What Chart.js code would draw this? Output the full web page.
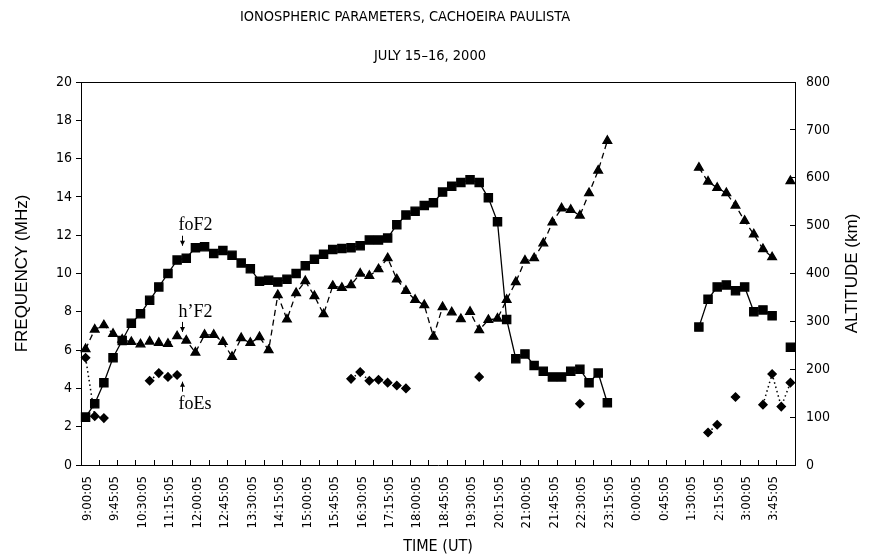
<!DOCTYPE html>
<html lang="en">
<head>
<meta charset="UTF-8">
<title>Ionospheric Parameters, Cachoeira Paulista</title>
<script src="https://cdn.jsdelivr.net/npm/chart.js"></script>
<style>
  body { margin: 0; background: #fff; }
  #chart { display: block; }
</style>
</head>
<body>
<canvas id="chart" width="872" height="558"></canvas>
<script>
// time of each sounding (UT), every 15 minutes
const timeLabels = [
  '9:00:05', '9:15:05', '9:30:05', '9:45:05', '10:00:05', '10:15:05', '10:30:05', '10:45:05',
  '11:00:05', '11:15:05', '11:30:05', '11:45:05', '12:00:05', '12:15:05', '12:30:05', '12:45:05',
  '13:00:05', '13:15:05', '13:30:05', '13:45:05', '14:00:05', '14:15:05', '14:30:05', '14:45:05',
  '15:00:05', '15:15:05', '15:30:05', '15:45:05', '16:00:05', '16:15:05', '16:30:05', '16:45:05',
  '17:00:05', '17:15:05', '17:30:05', '17:45:05', '18:00:05', '18:15:05', '18:30:05', '18:45:05',
  '19:00:05', '19:15:05', '19:30:05', '19:45:05', '20:00:05', '20:15:05', '20:30:05', '20:45:05',
  '21:00:05', '21:15:05', '21:30:05', '21:45:05', '22:00:05', '22:15:05', '22:30:05', '22:45:05',
  '23:00:05', '23:15:05', '23:30:05', '23:45:05', '0:00:05', '0:15:05', '0:30:05', '0:45:05',
  '1:00:05', '1:15:05', '1:30:05', '1:45:05', '2:00:05', '2:15:05', '2:30:05', '2:45:05',
  '3:00:05', '3:15:05', '3:30:05', '3:45:05', '4:00:05', '4:15:05'
];

// foF2 (MHz)
const foF2 = [
  2.5, 3.2, 4.3, 5.6, 6.5, 7.4, 7.9, 8.6, 9.3, 10.0,
  10.7, 10.8, 11.35, 11.4, 11.05, 11.2, 10.95, 10.55, 10.25, 9.6,
  9.65, 9.55, 9.7, 10.0, 10.4, 10.75, 11.0, 11.25, 11.3, 11.35,
  11.45, 11.75, 11.75, 11.85, 12.55, 13.05, 13.25, 13.55, 13.7, 14.25,
  14.55, 14.75, 14.9, 14.75, 13.95, 12.7, 7.6, 5.55, 5.8, 5.2,
  4.9, 4.6, 4.6, 4.9, 5.0, 4.3, 4.8, 3.25, null, null,
  null, null, null, null, null, null, null, 7.2, 8.65, 9.3,
  9.4, 9.1, 9.3, 8.0, 8.1, 7.8, null, 6.15
];

// h'F2 (km)
const hpF2 = [
  242, 283, 292, 274, 262, 257, 252, 258, 255, 253,
  269, 260, 235, 272, 272, 257, 226, 265, 255, 267,
  240, 355, 304, 359, 384, 353, 315, 374, 370, 376,
  400, 395, 409, 432, 388, 364, 345, 334, 268, 330,
  319, 305, 320, 282, 303, 306, 345, 382, 427, 432,
  463, 507, 536, 533, 521, 568, 615, 677, null, null,
  null, null, null, null, null, null, null, 621, 592, 579,
  568, 542, 510, 482, 451, 434, null, 593
];

// foEs (MHz)
const foEs = [
  5.6, 2.55, 2.45, null, null, null, null, 4.4, 4.8, 4.6,
  4.7, null, null, null, null, null, null, null, null, null,
  null, null, null, null, null, null, null, null, null, 4.5,
  4.85, 4.4, 4.45, 4.3, 4.15, 4.0, null, null, null, null,
  null, null, null, 4.6, null, null, null, null, null, null,
  null, null, null, null, 3.2, null, null, null, null, null,
  null, null, null, null, null, null, null, null, 1.7, 2.1,
  null, 3.55, null, null, 3.15, 4.75, 3.05, 4.3
];

const titleLines = ['IONOSPHERIC PARAMETERS, CACHOEIRA PAULISTA', 'JULY 15\u201316, 2000'];

// curve labels: category position of the arrow, arrow tip in MHz, direction
const curveNotes = [
  { text: 'foF2', at: 10.5, tip: 11.45, dir: 'down' },
  { text: 'h\u2019F2', at: 10.5, tip: 6.95, dir: 'down' },
  { text: 'foEs', at: 10.5, tip: 4.35, dir: 'up' }
];

const condensed = "'DejaVu Sans Condensed', 'DejaVu Sans', sans-serif";

const extras = {
  id: 'extras',
  afterDraw(chart) {
    const { ctx, chartArea: a, scales } = chart;
    ctx.save();
    // top edge of plot frame
    ctx.strokeStyle = '#000';
    ctx.lineWidth = 1;
    ctx.beginPath();
    ctx.moveTo(a.left, Math.round(a.top) + 0.5);
    ctx.lineTo(a.right, Math.round(a.top) + 0.5);
    ctx.stroke();

    // titles
    ctx.fillStyle = '#000';
    ctx.textAlign = 'center';
    ctx.textBaseline = 'middle';
    ctx.font = '14.5px ' + condensed;
    ctx.fillText(titleLines[0], 405, 17);
    ctx.fillText(titleLines[1], 430, 56);

    // right axis title, reading bottom to top
    ctx.font = '17px "Liberation Sans", Arial, sans-serif';
    ctx.translate(852, (a.top + a.bottom) / 2);
    ctx.rotate(-Math.PI / 2);
    ctx.fillText('ALTITUDE (km)', 0, 0);
    ctx.setTransform(1, 0, 0, 1, 0, 0);

    // curve labels with arrows
    ctx.font = '18px "Liberation Serif", "Times New Roman", serif';
    ctx.textAlign = 'left';
    ctx.lineWidth = 1;
    curveNotes.forEach(n => {
      const x = Math.round(scales.x.getPixelForValue(n.at)) + 0.5;
      const tip = scales.y.getPixelForValue(n.tip);
      const s = n.dir === 'down' ? -1 : 1;
      const tail = tip + s * 10;
      ctx.beginPath();
      ctx.moveTo(x, tail);
      ctx.lineTo(x, tip);
      ctx.stroke();
      ctx.beginPath();
      ctx.moveTo(x, tip);
      ctx.lineTo(x - 2.5, tip + s * 5);
      ctx.lineTo(x + 2.5, tip + s * 5);
      ctx.closePath();
      ctx.fill();
      ctx.fillText(n.text, x - 4, tail + s * (s > 0 ? 13 : 10));
    });
    ctx.restore();
  }
};

new Chart(document.getElementById('chart'), {
  type: 'line',
  data: {
    labels: timeLabels,
    datasets: [
      {
        label: 'foF2',
        data: foF2,
        yAxisID: 'y',
        borderColor: '#000',
        backgroundColor: '#000',
        borderWidth: 1.3,
        pointStyle: 'rect',
        pointRadius: 5.8,
        tension: 0
      },
      {
        label: "h'F2",
        data: hpF2,
        yAxisID: 'y2',
        borderColor: '#000',
        backgroundColor: '#000',
        borderWidth: 1.3,
        borderDash: [6, 4],
        pointStyle: 'triangle',
        pointRadius: 5,
        tension: 0
      },
      {
        label: 'foEs',
        data: foEs,
        yAxisID: 'y',
        borderColor: '#000',
        backgroundColor: '#000',
        borderWidth: 1.5,
        borderDash: [1.5, 3],
        pointStyle: 'rectRot',
        pointRadius: 4,
        tension: 0
      }
    ]
  },
  options: {
    responsive: false,
    devicePixelRatio: 1,
    animation: false,
    layout: { padding: { top: 82, left: 0, right: 0, bottom: 0 } },
    plugins: {
      legend: { display: false },
      tooltip: { enabled: false }
    },
    scales: {
      x: {
        type: 'category',
        offset: true,
        grid: {
          offset: true,
          drawOnChartArea: false,
          tickLength: -5,
          tickColor: c => (c.index % 2 === 0 ? '#000' : 'rgba(0,0,0,0)')
        },
        border: { color: '#000', width: 1 },
        ticks: {
          autoSkip: false,
          maxRotation: 90,
          minRotation: 90,
          padding: 16,
          labelOffset: 2,
          color: '#000',
          font: { family: condensed, size: 13 },
          callback: (v, i) => (i % 3 === 0 ? timeLabels[i] : '')
        },
        title: {
          display: true,
          text: 'TIME (UT)',
          color: '#000',
          font: { family: condensed, size: 16 },
          padding: { top: 0, bottom: 2 }
        },
        afterFit: s => { s.height = 93; }
      },
      y: {
        position: 'left',
        min: 0,
        max: 20,
        grid: { drawOnChartArea: false, tickLength: 5, tickColor: '#000' },
        border: { color: '#000', width: 1 },
        ticks: {
          stepSize: 2,
          padding: 4,
          color: '#000',
          font: { family: condensed, size: 14 }
        },
        title: {
          display: true,
          text: 'FREQUENCY (MHz)',
          color: '#000',
          font: { family: '"Liberation Sans", Arial, sans-serif', size: 17 },
          padding: { top: 12, bottom: 0 }
        },
        afterFit: s => { s.width = 81; }
      },
      y2: {
        position: 'right',
        min: 0,
        max: 800,
        grid: { drawOnChartArea: false, tickLength: -5, tickColor: '#000' },
        border: { color: '#000', width: 1 },
        ticks: {
          stepSize: 100,
          padding: 16,
          color: '#000',
          font: { family: condensed, size: 14 }
        },
        afterFit: s => { s.width = 77; }
      }
    }
  },
  plugins: [extras]
});
</script>
</body>
</html>
